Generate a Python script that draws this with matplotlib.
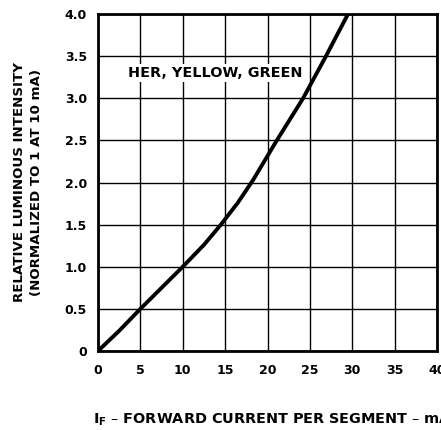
import matplotlib
matplotlib.use("Agg")
import matplotlib.pyplot as plt

plt.rcParams["font.family"] = ["DejaVu Sans"]
plt.rcParams["font.weight"] = "bold"

current_ma = [0, 2.5, 5, 7.5, 10, 12.5, 14.5, 16.5, 18.3, 21.1, 24.2, 26.9, 29.5]
intensity = [0, 0.24, 0.5, 0.75, 1.0, 1.26, 1.5, 1.76, 2.03, 2.5, 3.0, 3.5, 4.0]

x_ticks = [0, 5, 10, 15, 20, 25, 30, 35, 40]
y_ticks = [0, 0.5, 1.0, 1.5, 2.0, 2.5, 3.0, 3.5, 4.0]
y_tick_labels = ["0", "0.5", "1.0", "1.5", "2.0", "2.5", "3.0", "3.5", "4.0"]
curve_label = "HER, YELLOW, GREEN"

fig = plt.figure(figsize=(4.41, 4.30), dpi=100)
ax = fig.add_axes([98 / 441, 1 - 351 / 430, 339 / 441, 337 / 430])

ax.plot(current_ma, intensity, color="black", lw=2.8, solid_capstyle="round",
        solid_joinstyle="round", zorder=3)
ax.set_xlim(0, 40)
ax.set_ylim(0, 4.0)
ax.set_xticks(x_ticks)
ax.set_yticks(y_ticks)
ax.set_yticklabels(y_tick_labels)
ax.grid(True, color="black", lw=1.0)
ax.tick_params(length=0, labelsize=9)
ax.tick_params(axis="x", pad=9)
ax.tick_params(axis="y", pad=8)
for lab in ax.get_xticklabels() + ax.get_yticklabels():
    lab.set_fontweight("bold")
for s in ax.spines.values():
    s.set_linewidth(2.0)

ax.text(3.55, 3.3, curve_label, fontsize=10.4, fontweight="bold", va="center", ha="left",
        bbox=dict(facecolor="white", edgecolor="none", pad=1.5), zorder=2)

fig.text(20 / 441, 1 - 182 / 430, "RELATIVE LUMINOUS INTENSITY", rotation=90,
         fontsize=9.6, fontweight="bold", ha="center", va="center")
fig.text(37 / 441, 1 - 182 / 430, "(NORMALIZED TO 1 AT 10 mA)", rotation=90,
         fontsize=9.6, fontweight="bold", ha="center", va="center")
fig.text(93 / 441, 1 - 424 / 430, r"I$_\mathbf{F}$ – FORWARD CURRENT PER SEGMENT – mA",
         fontsize=10.4, fontweight="bold", ha="left", va="baseline")

fig.savefig("out.png", dpi=100)
